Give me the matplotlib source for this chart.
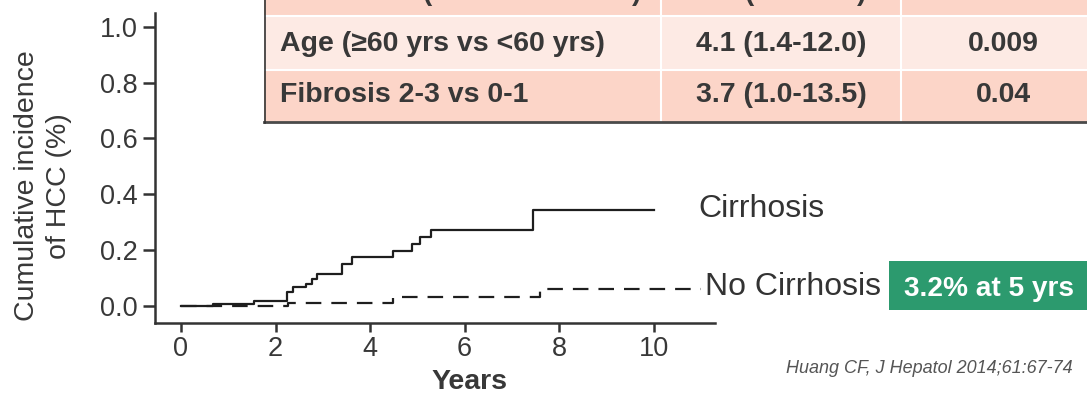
import matplotlib
matplotlib.use('Agg')
import matplotlib.pyplot as plt
from matplotlib.patches import Rectangle

plt.rcParams['font.family'] = ['Liberation Sans', 'DejaVu Sans']

# cumulative incidence of HCC (years, fraction)
cirr_years = [0, 0.68, 1.55, 2.25, 2.37, 2.64, 2.77, 2.88, 3.40, 3.62, 4.48, 4.89, 5.05, 5.28, 7.45, 10.0]
cirr_inc = [0, 0.007, 0.018, 0.051, 0.069, 0.079, 0.096, 0.114, 0.149, 0.177, 0.195, 0.222, 0.248, 0.272, 0.344, 0.344]
nocirr_years = [0, 2.27, 4.48, 7.6, 11.0]
nocirr_inc = [0, 0.010, 0.032, 0.062, 0.062]

x_ticks = [0, 2, 4, 6, 8, 10]
y_ticks = [0.0, 0.2, 0.4, 0.6, 0.8, 1.0]

# multivariate analysis table
factors = ['Age (≥60 yrs vs <60 yrs)', 'Fibrosis 2-3 vs 0-1']
hr_ci = ['4.1 (1.4-12.0)', '3.7 (1.0-13.5)']
p_vals = ['0.009', '0.04']

W, H = 1087, 393
txt = '#383838'

fig = plt.figure(figsize=(W / 100, H / 100), dpi=100)
ax = fig.add_axes([155 / W, (H - 323) / H, (715 - 155) / W, (323 - 12.7) / H])

ax.step(cirr_years, cirr_inc, where='post', color='#1e1e1e', lw=1.6)
ax.step(nocirr_years, nocirr_inc, where='post', color='#1e1e1e', lw=1.6,
        linestyle=(0, (7, 4.5)))
ax.set_xlim(-0.55, 11.3)
ax.set_ylim(-0.061, 1.05)

ax.set_xticks(x_ticks)
ax.set_yticks(y_ticks)
ax.set_yticklabels(['%.1f' % v for v in y_ticks])
for s in ['top', 'right']:
    ax.spines[s].set_visible(False)
for s in ['left', 'bottom']:
    ax.spines[s].set_linewidth(1.8)
    ax.spines[s].set_color('#333333')
ax.tick_params(direction='out', width=1.8, colors='#333333', labelcolor=txt, labelsize=19.5)
ax.tick_params(axis='y', length=8.6, pad=4)
ax.tick_params(axis='x', length=6.5, pad=2.5)

# overlay in pixel coordinates for labels and the table
ov = fig.add_axes([0, 0, 1, 1], zorder=5)
ov.set_xlim(0, W)
ov.set_ylim(H, 0)
ov.axis('off')

ov.text(43, 186, 'Cumulative incidence\nof HCC (%)', rotation=90, ha='center', va='center',
        fontsize=20.5, color=txt, linespacing=1.28, multialignment='center')
ov.text(469, 389, 'Years', ha='center', va='baseline', fontsize=20.5, fontweight='bold', color=txt)

ov.text(698, 217, 'Cirrhosis', ha='left', va='baseline', fontsize=23, color='#333333')
ov.text(705, 295, 'No Cirrhosis', ha='left', va='baseline', fontsize=23, color='#333333')

ov.add_patch(Rectangle((889, 261), 210, 49, color='#2c9a6e', lw=0))
ov.text(904, 296.5, '3.2% at 5 yrs', ha='left', va='baseline', fontsize=20.2,
        fontweight='bold', color='white')

ov.text(1073, 373, 'Huang CF, J Hepatol 2014;61:67-74', ha='right', va='baseline',
        fontsize=13, style='italic', color='#555555')

# table rows
row_spans = [(-40, 15.5), (15.5, 69.5), (69.5, 121.5)]
row_colors = ['#fcd5c8', '#fdeae4', '#fcd5c8']
for (y0, y1), c in zip(row_spans, row_colors):
    ov.add_patch(Rectangle((264, y0), W - 264 + 20, y1 - y0, color=c, lw=0))
for y in [15.5, 69.5]:
    ov.plot([264, W], [y, y], color='white', lw=1.5)
for x in [661, 901]:
    ov.plot([x, x], [-5, 121], color='white', lw=1.5)
ov.plot([264, W], [121.5, 121.5], color='#4a4a4a', lw=2)
ov.plot([264.5, 264.5], [-5, 122.5], color='#333333', lw=1.2)

# header row sits mostly above the top edge
for x, s in [(427, '('), (637, ')'), (749, '('), (862, ')')]:
    ov.text(x, 0.5, s, ha='center', va='baseline', fontsize=20, fontweight='bold', color=txt)

baselines = [51, 102]
for i in range(len(factors)):
    ov.text(280, baselines[i], factors[i], ha='left', va='baseline', fontsize=20.5,
            fontweight='bold', color=txt)
    ov.text(781, baselines[i], hr_ci[i], ha='center', va='baseline', fontsize=20.5,
            fontweight='bold', color=txt)
    ov.text(1003, baselines[i], p_vals[i], ha='center', va='baseline', fontsize=20.5,
            fontweight='bold', color=txt)

fig.savefig('out.png', dpi=100)
